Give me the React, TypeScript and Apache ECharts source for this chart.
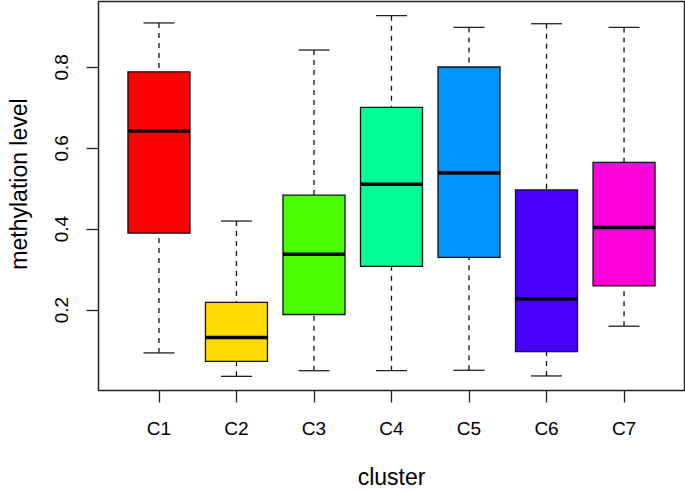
import React, { useEffect, useRef } from "react";
import * as echarts from "echarts";

const CATEGORIES = ["C1", "C2", "C3", "C4", "C5", "C6", "C7"];
const WHISKER_LOW = [0.094, 0.036, 0.05, 0.05, 0.051, 0.037, 0.16];
const Q1 = [0.39, 0.073, 0.189, 0.308, 0.33, 0.097, 0.26];
const MEDIAN = [0.643, 0.132, 0.338, 0.511, 0.539, 0.228, 0.404];
const Q3 = [0.789, 0.219, 0.484, 0.701, 0.801, 0.497, 0.565];
const WHISKER_HIGH = [0.91, 0.42, 0.843, 0.928, 0.899, 0.908, 0.899];
const COLORS = ["#FF0000", "#FFDB00", "#49FF00", "#00FF92", "#0092FF", "#4900FF", "#FF00DB"];
const Y_TICKS = [0.2, 0.4, 0.6, 0.8];
const X_TITLE = "cluster";
const Y_TITLE = "methylation level";

const FONT = "'Liberation Sans', Arial, Helvetica, sans-serif";

export default function App() {
  const ref = useRef<HTMLDivElement>(null);

  useEffect(() => {
    if (!ref.current) return;
    const chart = echarts.init(ref.current, null, { renderer: "svg" });
    const data = CATEGORIES.map((_, i) => [
      i + 1,
      WHISKER_LOW[i],
      Q1[i],
      MEDIAN[i],
      Q3[i],
      WHISKER_HIGH[i],
    ]);
    const xPositions = CATEGORIES.map((_, i) => i + 1);

    chart.setOption({
      animation: false,
      grid: {
        left: 98.5,
        top: 1.5,
        width: 586,
        height: 389,
        show: true,
        borderColor: "#222",
        borderWidth: 1.5,
        backgroundColor: "transparent",
        outerBoundsMode: "none",
      },
      xAxis: {
        type: "value",
        min: 0.22,
        max: 7.78,
        splitLine: { show: false },
        axisLine: { show: false },
        axisTick: {
          show: true,
          length: 12,
          customValues: xPositions,
          lineStyle: { color: "#222", width: 1.3 },
        },
        axisLabel: {
          show: true,
          customValues: xPositions,
          margin: 28,
          fontSize: 19,
          fontFamily: FONT,
          color: "#000",
          formatter: (v: number) => CATEGORIES[Math.round(v) - 1] ?? "",
        },
      },
      yAxis: {
        type: "value",
        min: 0.001,
        max: 0.963,
        splitLine: { show: false },
        axisLine: { show: false },
        axisTick: {
          show: true,
          length: 12,
          customValues: Y_TICKS,
          lineStyle: { color: "#222", width: 1.3 },
        },
        axisLabel: {
          show: true,
          customValues: Y_TICKS,
          rotate: 90,
          margin: 28,
          fontSize: 19,
          fontFamily: FONT,
          color: "#000",
          formatter: (v: number) => v.toFixed(1),
        },
      },
      graphic: [
        {
          type: "text",
          x: 391.5,
          y: 477,
          style: {
            text: X_TITLE,
            fontSize: 23,
            fontFamily: FONT,
            fill: "#000",
            align: "center",
            verticalAlign: "middle",
          },
        },
        {
          type: "text",
          x: 19,
          y: 184,
          rotation: Math.PI / 2,
          style: {
            text: Y_TITLE,
            fontSize: 23,
            fontFamily: FONT,
            fill: "#000",
            align: "center",
            verticalAlign: "middle",
          },
        },
      ],
      series: [
        {
          type: "custom",
          data,
          encode: { x: 0, y: [1, 2, 3, 4, 5] },
          clip: false,
          renderItem: (params: any, api: any) => {
            const x = api.value(0);
            const lo = api.coord([x, api.value(1)]);
            const q1 = api.coord([x, api.value(2)]);
            const med = api.coord([x, api.value(3)]);
            const q3 = api.coord([x, api.value(4)]);
            const hi = api.coord([x, api.value(5)]);
            const unit = api.size([1, 0])[0];
            const hw = unit * 0.4;
            const cw = unit * 0.2;
            const cx = lo[0];
            const dash = { stroke: "#111", lineWidth: 1.3, lineDash: [5, 5] };
            const solid = { stroke: "#222", lineWidth: 1.3 };
            return {
              type: "group",
              children: [
                {
                  type: "line",
                  shape: { x1: cx, y1: hi[1], x2: cx, y2: q3[1] },
                  style: dash,
                },
                {
                  type: "line",
                  shape: { x1: cx, y1: lo[1], x2: cx, y2: q1[1] },
                  style: dash,
                },
                {
                  type: "line",
                  shape: { x1: cx - cw, y1: hi[1], x2: cx + cw, y2: hi[1] },
                  style: solid,
                },
                {
                  type: "line",
                  shape: { x1: cx - cw, y1: lo[1], x2: cx + cw, y2: lo[1] },
                  style: solid,
                },
                {
                  type: "rect",
                  shape: { x: cx - hw, y: q3[1], width: 2 * hw, height: q1[1] - q3[1] },
                  style: { fill: COLORS[params.dataIndex], stroke: "#111", lineWidth: 1.3 },
                },
                {
                  type: "line",
                  shape: { x1: cx - hw, y1: med[1], x2: cx + hw, y2: med[1] },
                  style: { stroke: "#000", lineWidth: 3.5 },
                },
              ],
            };
          },
        },
      ],
    });

    return () => {
      chart.dispose();
    };
  }, []);

  return (
    <div
      ref={ref}
      style={{ position: "absolute", left: 0, top: 0, width: 685, height: 492, background: "#fff" }}
    />
  );
}
